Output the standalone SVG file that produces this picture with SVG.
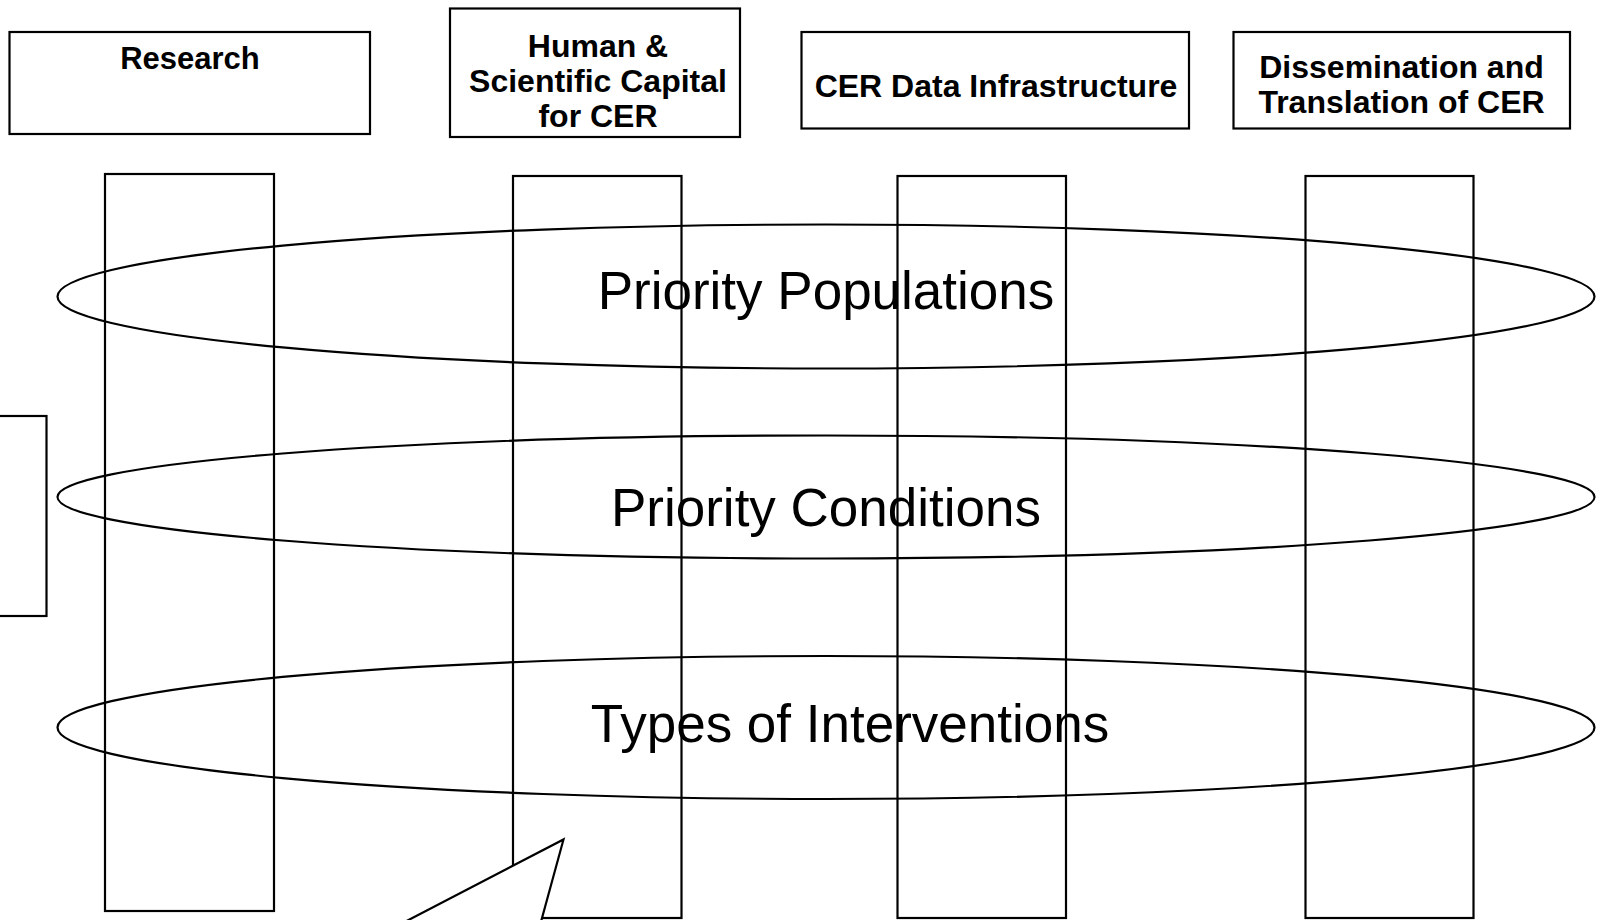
<svg xmlns="http://www.w3.org/2000/svg" width="1607" height="920" viewBox="0 0 1607 920">
<style>
.box{fill:none;stroke:#000;stroke-width:2.2}
.hdr{font-family:"Liberation Sans",Arial,sans-serif;font-weight:bold;font-size:32px;fill:#000;text-anchor:middle}
.big{font-family:"Liberation Sans",Arial,sans-serif;font-size:53px;fill:#000;text-anchor:middle}
.ell{fill:none;stroke:#000;stroke-width:2.2}
</style>
<rect width="1607" height="920" fill="#fff"/>
<g id="header-research"><rect class="box" x="9.5" y="32" width="360.5" height="102"/><text class="hdr" x="190" y="69" style="font-size:31px">Research</text></g>
<g id="header-human"><rect class="box" x="450" y="8.5" width="290" height="128.5"/><text class="hdr" x="598" y="57">Human &amp;</text><text class="hdr" x="598" y="92">Scientific Capital</text><text class="hdr" x="598" y="126.5">for CER</text></g>
<g id="header-data"><rect class="box" x="801.5" y="32" width="387.5" height="96.5"/><text class="hdr" x="996" y="97">CER Data Infrastructure</text></g>
<g id="header-dissemination"><rect class="box" x="1233.5" y="32" width="336.5" height="96.5"/><text class="hdr" x="1401.5" y="78">Dissemination and</text><text class="hdr" x="1401.5" y="113">Translation of CER</text></g>
<g id="side-box"><rect class="box" x="-3" y="416" width="49.5" height="200"/></g>
<g id="col-research"><rect class="box" x="105" y="174" width="169" height="737"/></g>
<g id="col-human"><rect class="box" x="513" y="176" width="168.5" height="742"/></g>
<g id="col-data"><rect class="box" x="897.5" y="176" width="168.5" height="742"/></g>
<g id="col-dissemination"><rect class="box" x="1305.5" y="176" width="168" height="742"/></g>
<g id="band-populations"><ellipse class="ell" cx="826" cy="296.5" rx="768.5" ry="72"/><text class="big" x="826" y="309">Priority Populations</text></g>
<g id="band-conditions"><ellipse class="ell" cx="826" cy="497" rx="768.5" ry="61.5"/><text class="big" x="826" y="526">Priority Conditions</text></g>
<g id="band-interventions"><ellipse class="ell" cx="826" cy="727.5" rx="768.5" ry="71.5"/><text class="big" x="850" y="742">Types of Interventions</text></g>
<g id="callout"><path d="M 370,940 L 563.5,839.5 L 536,940 Z" fill="#fff" stroke="#000" stroke-width="2.2"/></g>
</svg>
